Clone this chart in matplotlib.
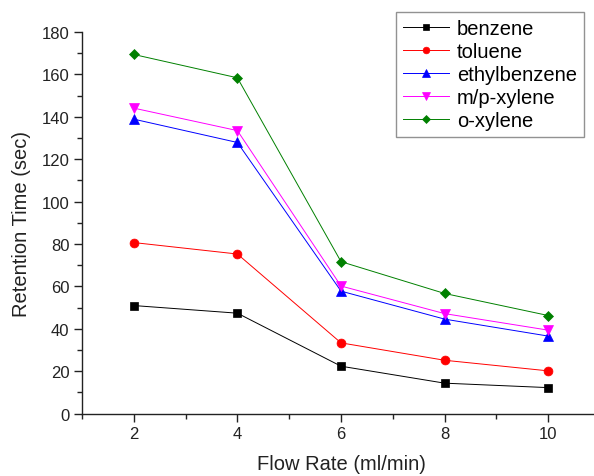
import matplotlib
matplotlib.use("Agg")
import matplotlib.pyplot as plt
from matplotlib.ticker import MultipleLocator

plt.rcParams['font.family'] = ['Liberation Sans', 'DejaVu Sans']

flow_rate = [2, 4, 6, 8, 10]
benzene = [51.0, 47.4, 22.4, 14.4, 12.3]
toluene = [80.7, 75.3, 33.4, 25.2, 20.2]
ethylbenzene = [138.9, 127.9, 57.8, 44.6, 36.6]
mp_xylene = [144.1, 133.5, 60.2, 47.2, 39.4]
o_xylene = [169.4, 158.4, 71.7, 56.7, 46.3]

series = [
    ("benzene", benzene, "black", "s", 5.6),
    ("toluene", toluene, "red", "o", 6.4),
    ("ethylbenzene", ethylbenzene, "blue", "^", 7.0),
    ("m/p-xylene", mp_xylene, "magenta", "v", 7.0),
    ("o-xylene", o_xylene, "green", "D", 5.6),
]

fig = plt.figure(figsize=(5.94, 4.77), dpi=100)
ax = fig.add_axes([82 / 594, 62.3 / 477, (600 - 82) / 594, 381.7 / 477])

for name, vals, color, marker, ms in series:
    ax.plot(flow_rate, vals, color=color, marker=marker, markersize=ms,
            linewidth=0.7, label=name, markeredgewidth=0.5)

ax.set_xlim(1, 11)
ax.set_ylim(0, 180)
ax.xaxis.set_major_locator(MultipleLocator(2))
ax.xaxis.set_minor_locator(MultipleLocator(1))
ax.yaxis.set_major_locator(MultipleLocator(20))
ax.yaxis.set_minor_locator(MultipleLocator(10))
ax.tick_params(which='major', direction='out', length=6, width=1, labelsize=12,
               colors='#222222', pad=3)
ax.tick_params(which='minor', direction='out', length=3.5, width=1, colors='#222222')

for side in ('top', 'right'):
    ax.spines[side].set_visible(False)
for side in ('left', 'bottom'):
    ax.spines[side].set_linewidth(1.0)
    ax.spines[side].set_color('#222222')

ax.set_xlabel("Flow Rate (ml/min)", fontsize=14.5, color='#222222', labelpad=9)
ax.set_ylabel("Retention Time (sec)", fontsize=14.5, color='#222222', labelpad=8)

leg = fig.legend(loc='upper right', bbox_to_anchor=(584 / 594, 1 - 13 / 477),
                 fontsize=14.5, handlelength=2.3, fancybox=False, frameon=True,
                 borderpad=0.35, labelspacing=0.2, handletextpad=0.4,
                 borderaxespad=0, markerscale=0.75)
leg.get_frame().set_edgecolor('#777777')
leg.get_frame().set_linewidth(1.0)

fig.savefig("out.png", dpi=100)
